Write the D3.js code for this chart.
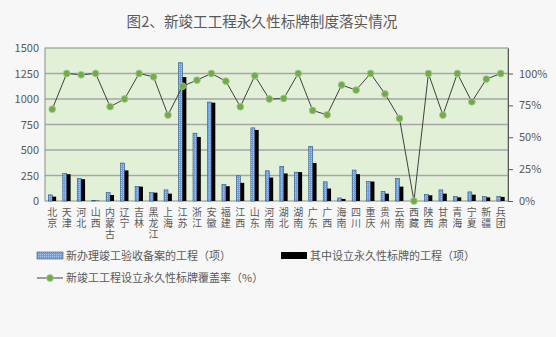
<!DOCTYPE html>
<html>
<head>
<meta charset="utf-8">
<script src="https://cdn.jsdelivr.net/npm/d3@7"></script>
<style>
  body { margin: 0; background: #f7f7f7; }
  text { font-family: "Noto Sans CJK SC", "Noto Sans", sans-serif; fill: #595959; }
  .cat { writing-mode: vertical-rl; text-orientation: upright; letter-spacing: 1px; }
</style>
</head>
<body>
<div id="chart-area"></div>
<script>
// chart data
var provinces = ["北京","天津","河北","山西","内蒙古","辽宁","吉林","黑龙江","上海","江苏",
    "浙江","安徽","福建","江西","山东","河南","湖北","湖南","广东","广西","海南",
    "四川","重庆","贵州","云南","西藏","陕西","甘肃","青海","宁夏","新疆","兵团"];
var newProjects = [60,270,220,3,82,372,141,82,109,1355,
    665,970,161,247,717,296,339,283,536,188,30,
    303,191,92,220,0,62,109,43,89,43,43];
var signProjects = [43,263,214,3,59,300,141,82,72,1215,
    628,964,145,178,697,230,270,283,372,122,20,
    263,191,72,141,0,56,72,36,62,36,40];
var coverRate = [0.72,1.00,0.99,1.00,0.74,0.80,1.00,0.974,0.674,0.90,
    0.948,1.00,0.94,0.739,0.982,0.80,0.804,1.00,0.71,0.676,0.91,
    0.87,1.00,0.84,0.648,0,1.00,0.674,1.00,0.778,0.956,1.00];
var leftTicks = [0,250,500,750,1000,1250,1500];
var rightTicks = [0,0.25,0.5,0.75,1];

var W = 556, H = 337;
var margin = {left: 45, right: 48, top: 48, bottom: 136};
var width = W - margin.left - margin.right;
var height = H - margin.top - margin.bottom;

var svg = d3.select("#chart-area").append("svg")
    .attr("width", W).attr("height", H);

svg.append("text")
    .attr("x", 262).attr("y", 27)
    .attr("text-anchor", "middle")
    .attr("font-size", "14.6px")
    .text("图2、新竣工工程永久性标牌制度落实情况");

var g = svg.append("g")
    .attr("transform", "translate(" + margin.left + "," + margin.top + ")");

var x = d3.scaleBand().domain(provinces).range([0, width]).paddingInner(0.46).paddingOuter(0.23);
var x1 = d3.scaleBand().domain(["a","b"]).range([0, x.bandwidth()]);
var y = d3.scaleLinear().domain([0, 1500]).range([height, 0]);
var y2 = d3.scaleLinear().domain([0, 1.2]).range([height, 0]);

// plot background
g.append("rect")
    .attr("width", width).attr("height", height)
    .attr("fill", "#e3f0d8");

// gridlines
g.selectAll(".grid").data(leftTicks.slice(1, -1)).enter()
    .append("line")
        .attr("x1", 0).attr("x2", width)
        .attr("y1", function(d){ return y(d); })
        .attr("y2", function(d){ return y(d); })
        .attr("stroke", "#a6a6a6").attr("stroke-width", 1.3);

g.append("rect")
    .attr("width", width).attr("height", height)
    .attr("fill", "none").attr("stroke", "#8c8c8c").attr("stroke-width", 1);

// left axis
var yAxis = g.append("g").call(d3.axisLeft(y).tickValues(leftTicks)
    .tickFormat(d3.format("d")).tickSize(0).tickPadding(6));
yAxis.select(".domain").remove();
yAxis.selectAll("text").attr("font-size", "11px").attr("fill", "#595959");

// right axis
var yAxis2 = g.append("g")
    .attr("transform", "translate(" + width + ",0)")
    .call(d3.axisRight(y2).tickValues(rightTicks).tickSizeInner(5).tickSizeOuter(0).tickPadding(6)
        .tickFormat(d3.format(".0%")));
yAxis2.select(".domain").attr("stroke", "#595959");
yAxis2.selectAll("line").attr("stroke", "#595959");
yAxis2.selectAll("text").attr("font-size", "11px").attr("fill", "#595959");

// bars
var defs = svg.append("defs");
var pat = defs.append("pattern")
    .attr("id", "dots").attr("width", 2).attr("height", 2)
    .attr("patternUnits", "userSpaceOnUse");
pat.append("rect").attr("width", 2).attr("height", 2).attr("fill", "#6f9fdc");
pat.append("rect").attr("width", 1).attr("height", 1).attr("fill", "#a9c6ee");

g.selectAll(".bar-a").data(newProjects).enter()
    .append("rect")
        .attr("x", function(d, i){ return x(provinces[i]) + x1("a"); })
        .attr("y", function(d){ return y(d); })
        .attr("width", x1.bandwidth())
        .attr("height", function(d){ return height - y(d); })
        .attr("fill", "url(#dots)")
        .attr("stroke", "#2f4f80").attr("stroke-width", 0.6);

g.selectAll(".bar-b").data(signProjects).enter()
    .append("rect")
        .attr("x", function(d, i){ return x(provinces[i]) + x1("b"); })
        .attr("y", function(d){ return y(d); })
        .attr("width", x1.bandwidth())
        .attr("height", function(d){ return height - y(d); })
        .attr("fill", "#000");

// rate line
var cx = function(d, i){ return x(provinces[i]) + x.bandwidth() / 2; };
var line = d3.line()
    .x(function(d, i){ return cx(d, i); })
    .y(function(d){ return y2(d); });
g.append("path")
    .datum(coverRate)
    .attr("d", line)
    .attr("fill", "none").attr("stroke", "#404040").attr("stroke-width", 1);
g.selectAll(".pt").data(coverRate).enter()
    .append("circle")
        .attr("cx", cx)
        .attr("cy", function(d){ return y2(d); })
        .attr("r", 3.4)
        .attr("fill", "#70ad47")
        .attr("stroke", "#a9c79a").attr("stroke-width", 0.8);

// vertical category labels
g.selectAll(".cat").data(provinces).enter()
    .append("text")
        .attr("class", "cat")
        .attr("font-size", "10px")
        .attr("x", function(d){ return x(d) + x.bandwidth() / 2; })
        .attr("y", height + 6)
        .text(function(d){ return d; });

// legend
var lg = svg.append("g");
lg.append("rect").attr("x", 37).attr("y", 252).attr("width", 26).attr("height", 7)
    .attr("fill", "url(#dots)").attr("stroke", "#2f4f80").attr("stroke-width", 0.6);
lg.append("text").attr("x", 66).attr("y", 260).attr("font-size", "11px")
    .text("新办理竣工验收备案的工程（项）");
lg.append("rect").attr("x", 281).attr("y", 252).attr("width", 26).attr("height", 7)
    .attr("fill", "#000");
lg.append("text").attr("x", 310).attr("y", 260).attr("font-size", "11px")
    .text("其中设立永久性标牌的工程（项）");
lg.append("line").attr("x1", 37).attr("x2", 63).attr("y1", 278).attr("y2", 278)
    .attr("stroke", "#404040").attr("stroke-width", 1);
lg.append("circle").attr("cx", 50).attr("cy", 278).attr("r", 3.4)
    .attr("fill", "#70ad47").attr("stroke", "#a9c79a").attr("stroke-width", 0.8);
lg.append("text").attr("x", 66).attr("y", 282).attr("font-size", "11px")
    .text("新竣工工程设立永久性标牌覆盖率（%）");
</script>
</body>
</html>
